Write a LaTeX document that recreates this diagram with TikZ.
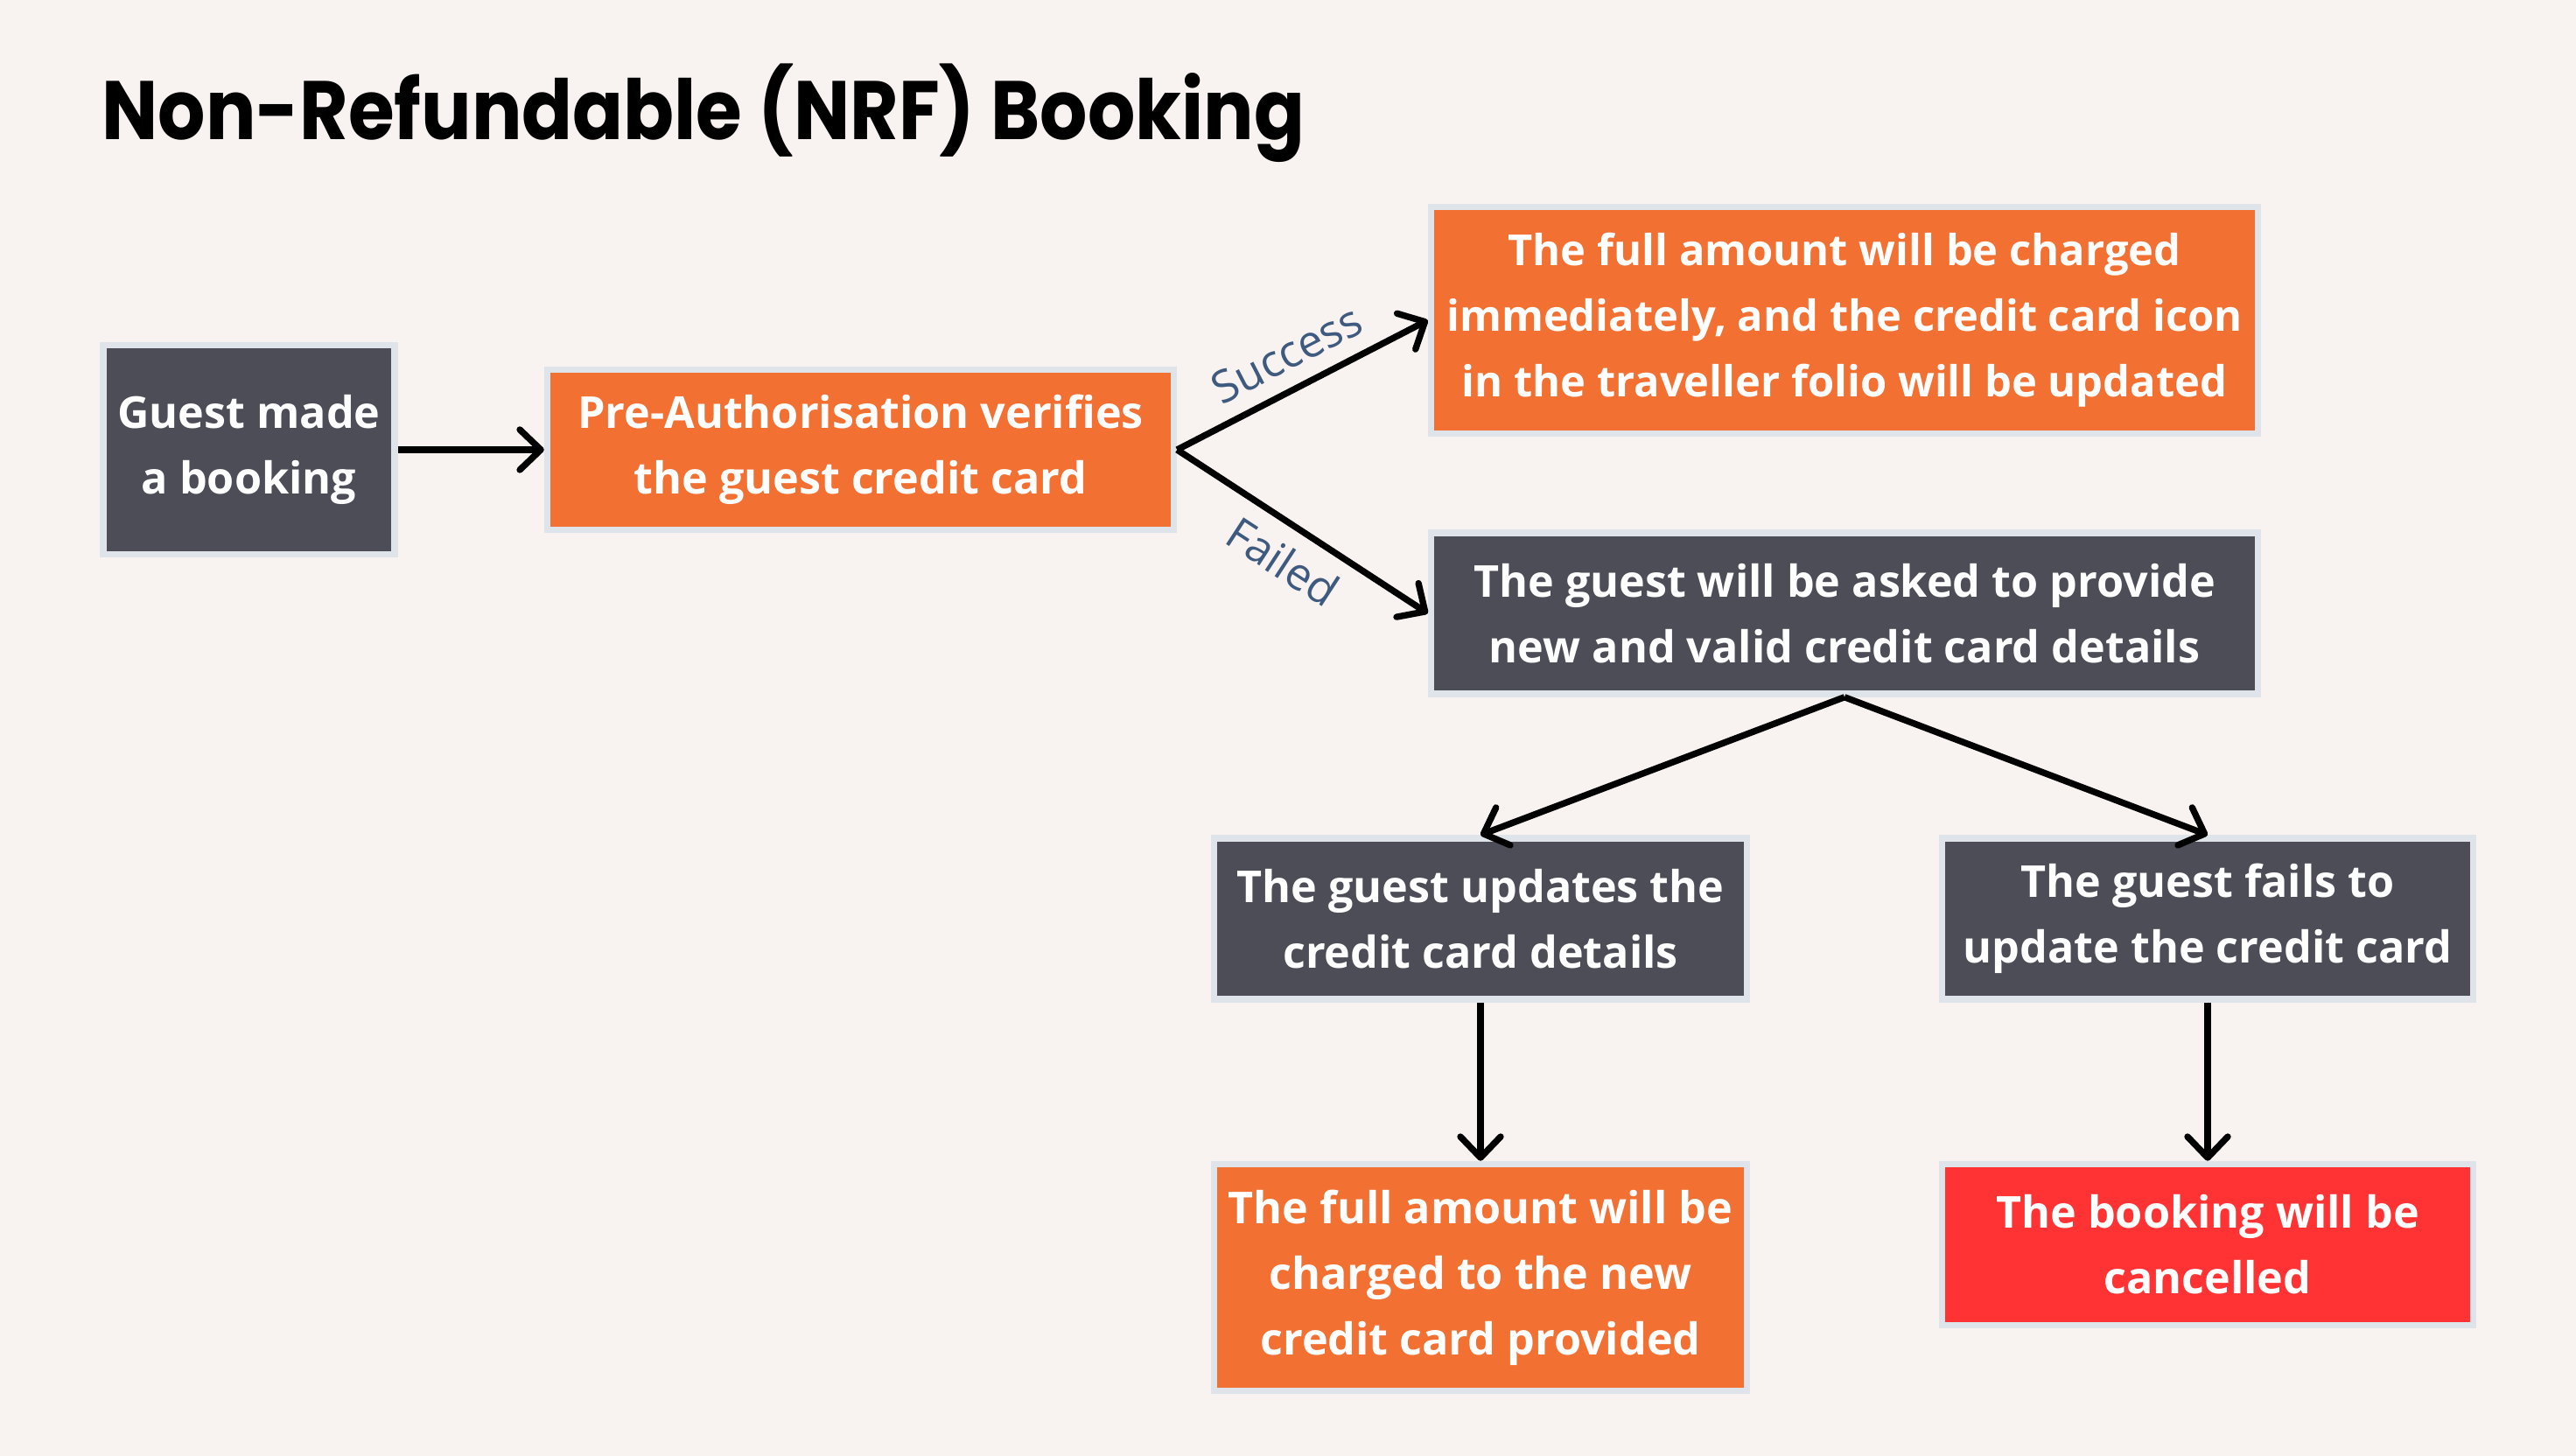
\documentclass[tikz,border=0pt]{standalone}
\usepackage{fontspec}
\setmainfont{Open Sans}
\newfontfamily\titlefont{Poppins}[FakeStretch=0.9]
\usetikzlibrary{arrows.meta,positioning}

\definecolor{paper}{HTML}{F8F2F1}
\definecolor{slate}{HTML}{4D4D57}
\definecolor{carrot}{HTML}{F37033}
\definecolor{alarm}{HTML}{FF3333}
\definecolor{rim}{HTML}{DFE3EA}
\definecolor{ink}{HTML}{3E5A7E}

\begin{document}
\begin{tikzpicture}[
  stage/.style={draw=rim,line width=.075cm,text=white,align=center,
    inner sep=2pt,font=\fontsize{14.3}{21.3}\selectfont\bfseries},
  darkstage/.style={stage,fill=slate},
  warmstage/.style={stage,fill=carrot},
  alarmstage/.style={stage,fill=alarm},
  flow/.style={line width=2.1pt,-{Straight Barb[length=2.4mm,width=4.6mm,round]}},
  outcome/.style={midway,sloped,text=ink,inner sep=5pt,font=\fontsize{14.5}{16}\selectfont}
]
  \fill[paper] (0,0) rectangle (29.44,-16.64);
  \useasboundingbox (0,0) rectangle (29.44,-16.64);

  \node[anchor=base west,inner sep=0pt,font=\titlefont\bfseries\fontsize{27}{32}\selectfont] (title)
    at (1.16,-1.60) {Non-Refundable (NRF) Booking};

  \node[darkstage,minimum width=3.33cm,minimum height=2.39cm] (guest)
    at (2.845,-5.14) {Guest made\\a booking};
  \node[warmstage,minimum width=7.16cm,minimum height=1.83cm,right=1.67cm of guest] (preauth)
    {Pre-Authorisation verifies\\the guest credit card};
  \node[warmstage,minimum width=9.45cm,minimum height=2.59cm,
    font=\fontsize{13.9}{21.3}\selectfont\bfseries] (charged)
    at (21.08,-3.66) {The full amount will be charged\\immediately, and the credit card icon\\in the traveller folio will be updated};
  \node[darkstage,minimum width=9.45cm,minimum height=1.84cm,below=1.06cm of charged] (askcard)
    {The guest will be asked to provide\\new and valid credit card details};
  \node[darkstage,minimum width=6.09cm,minimum height=1.84cm] (updated)
    at (16.92,-10.50) {The guest updates the\\credit card details};
  \node[darkstage,minimum width=6.07cm,minimum height=1.84cm] (notupdated)
    at (25.23,-10.50) {The guest fails to\\update the credit card};
  \node[warmstage,minimum width=6.09cm,minimum height=2.59cm,below=1.81cm of updated] (newcharge)
    {The full amount will be\\charged to the new\\credit card provided};
  \node[alarmstage,minimum width=6.07cm,minimum height=1.84cm,below=1.81cm of notupdated] (cancelled)
    {The booking will be\\cancelled};

  \draw[flow] (guest) -- (preauth);
  \draw[flow] (preauth.east) -- node[outcome,above] {Success} (charged.west);
  \draw[flow] (preauth.east) -- node[outcome,below] {Failed} (askcard.west);
  \draw[flow] (askcard.south) -- (updated.north);
  \draw[flow] (askcard.south) -- (notupdated.north);
  \draw[flow] (updated) -- (newcharge);
  \draw[flow] (notupdated) -- (cancelled);
\end{tikzpicture}
\end{document}
